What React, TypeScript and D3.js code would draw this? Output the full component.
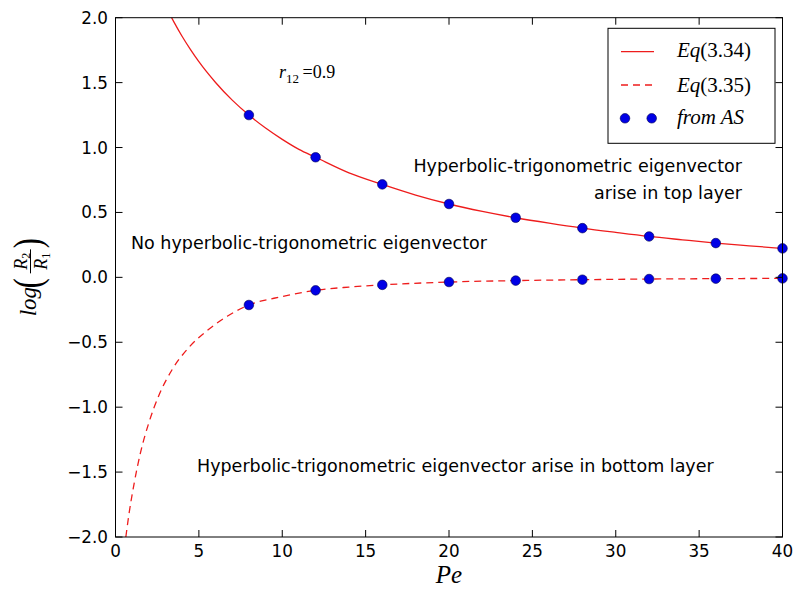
import React from "react";
import * as d3 from "d3";

// Sampled values of the two analytic branches and the AS points
const eq334Pe = [3.0, 3.5, 4, 4.5, 5, 6, 7, 8, 9, 10, 11, 12, 14, 16, 18, 20, 22, 24, 26, 28, 30, 32, 34, 36, 38, 40];
const eq334Val = [2.09, 1.968, 1.855, 1.754, 1.661, 1.501, 1.365, 1.25, 1.15, 1.063, 0.986, 0.925, 0.805, 0.716, 0.634, 0.565, 0.508, 0.459, 0.417, 0.379, 0.346, 0.315, 0.289, 0.264, 0.243, 0.223];

const eq335Pe = [0.62, 0.8, 1.1, 1.5, 2, 2.6, 3.4, 4.4, 5.5, 6.7, 8, 10, 12, 14, 16, 20, 24, 28, 32, 36, 40];
const eq335Val = [-2.0, -1.83, -1.6, -1.35, -1.12, -0.91, -0.71, -0.54, -0.41, -0.3, -0.213, -0.148, -0.1, -0.075, -0.058, -0.036, -0.025, -0.018, -0.013, -0.01, -0.008];

const asPe = [8, 12, 16, 20, 24, 28, 32, 36, 40];
const asTop = [1.25, 0.925, 0.716, 0.565, 0.459, 0.379, 0.315, 0.264, 0.223];
const asBottom = [-0.213, -0.1, -0.058, -0.036, -0.025, -0.018, -0.013, -0.01, -0.008];

const xTicks = [0, 5, 10, 15, 20, 25, 30, 35, 40];
const yTicks = [-2.0, -1.5, -1.0, -0.5, 0.0, 0.5, 1.0, 1.5, 2.0];

const W = 795;
const H = 591;
const L = 115.5;
const R = 782.5;
const T = 17.7;
const B = 537;

const RED = "#ee1c1c";
const BLUE = "#0000e6";
const SANS = "'DejaVu Sans', sans-serif";
const SERIF = "'Liberation Serif', 'DejaVu Serif', serif";

export default function App() {
  const x = d3.scaleLinear().domain([0, 40]).range([L, R]);
  const y = d3.scaleLinear().domain([-2, 2]).range([B, T]);

  const line = d3
    .line<[number, number]>()
    .x((d) => x(d[0]))
    .y((d) => y(d[1]))
    .curve(d3.curveMonotoneX);

  const topPts: [number, number][] = eq334Pe.map((p, i) => [p, eq334Val[i]]);
  const botPts: [number, number][] = eq335Pe.map((p, i) => [p, eq335Val[i]]);

  const tickLen = 7;
  const fmtY = (v: number) => (v < 0 ? "\u2212" + Math.abs(v).toFixed(1) : v.toFixed(1));

  return (
    <svg
      width={W}
      height={H}
      style={{ position: "absolute", left: 0, top: 0, background: "#fff" }}
    >
      <defs>
        <clipPath id="plotArea">
          <rect x={L} y={T} width={R - L} height={B - T} />
        </clipPath>
      </defs>
      <rect x={0} y={0} width={W} height={H} fill="#fff" />

      {/* curves and points */}
      <g clipPath="url(#plotArea)">
        <path d={line(topPts) || ""} fill="none" stroke={RED} strokeWidth={1.3} />
        <path
          d={line(botPts) || ""}
          fill="none"
          stroke={RED}
          strokeWidth={1.3}
          strokeDasharray="7,5"
        />
      </g>
      {asPe.map((p, i) => (
        <circle key={"t" + i} cx={x(p)} cy={y(asTop[i])} r={4.8} fill={BLUE} stroke="#000050" strokeWidth={0.6} />
      ))}
      {asPe.map((p, i) => (
        <circle key={"b" + i} cx={x(p)} cy={y(asBottom[i])} r={4.8} fill={BLUE} stroke="#000050" strokeWidth={0.6} />
      ))}

      {/* frame */}
      <rect x={L} y={T} width={R - L} height={B - T} fill="none" stroke="#000" strokeWidth={1} />

      {/* x ticks, inward on bottom and top */}
      {xTicks.map((t) => (
        <g key={"x" + t}>
          <line x1={x(t)} x2={x(t)} y1={B} y2={B - tickLen} stroke="#000" strokeWidth={1} />
          <line x1={x(t)} x2={x(t)} y1={T} y2={T + tickLen} stroke="#000" strokeWidth={1} />
          <text x={x(t)} y={557} textAnchor="middle" fontFamily={SANS} fontSize={16.8} fill="#000">
            {t}
          </text>
        </g>
      ))}

      {/* y ticks, inward on left and right */}
      {yTicks.map((t) => (
        <g key={"y" + t}>
          <line x1={L} x2={L + tickLen} y1={y(t)} y2={y(t)} stroke="#000" strokeWidth={1} />
          <line x1={R} x2={R - tickLen} y1={y(t)} y2={y(t)} stroke="#000" strokeWidth={1} />
          <text x={108} y={y(t) + 6} textAnchor="end" fontFamily={SANS} fontSize={16.8} fill="#000">
            {fmtY(t)}
          </text>
        </g>
      ))}

      {/* axis labels */}
      <text x={(L + R) / 2} y={583} textAnchor="middle" fontFamily={SERIF} fontStyle="italic" fontSize={25} fill="#000">
        Pe
      </text>
      <g transform={`translate(34, ${(T + B) / 2}) rotate(-90)`} fontFamily={SERIF} fill="#000">
        <text x={-39} y={2} fontSize={23} fontStyle="italic">
          log
        </text>
        <text x={-11} y={7} fontSize={40} transform="translate(-11,0) scale(0.75,1) translate(11,0)">
          (
        </text>
        <text x={16} y={-7} fontSize={18} textAnchor="middle">
          <tspan fontStyle="italic">R</tspan>
          <tspan fontSize={12} dy={3}>2</tspan>
        </text>
        <line x1={4} x2={28} y1={-3.5} y2={-3.5} stroke="#000" strokeWidth={1} />
        <text x={16} y={13} fontSize={18} textAnchor="middle">
          <tspan fontStyle="italic">R</tspan>
          <tspan fontSize={12} dy={3}>1</tspan>
        </text>
        <text x={29} y={7} fontSize={40} transform="translate(29,0) scale(0.75,1) translate(-29,0)">
          )
        </text>
      </g>

      {/* annotations */}
      <text x={279} y={78} fontFamily={SERIF} fontSize={18} fill="#000">
        <tspan fontStyle="italic">r</tspan>
        <tspan fontSize={13} dy={5}>12</tspan>
        <tspan dy={-5}>{"\u2009=0.9"}</tspan>
      </text>
      <text x={742} y={171.5} textAnchor="end" fontFamily={SANS} fontSize={17.5} fill="#000">
        Hyperbolic-trigonometric eigenvector
      </text>
      <text x={742} y={199} textAnchor="end" fontFamily={SANS} fontSize={17.5} fill="#000">
        arise in top layer
      </text>
      <text x={131} y={249} fontFamily={SANS} fontSize={17.5} fill="#000">
        No hyperbolic-trigonometric eigenvector
      </text>
      <text x={197} y={472} fontFamily={SANS} fontSize={17.5} fill="#000">
        Hyperbolic-trigonometric eigenvector arise in bottom layer
      </text>

      {/* legend */}
      <g>
        <rect x={608} y={28.3} width={167} height={115} fill="#fff" stroke="#000" strokeWidth={1} />
        <line x1={621} x2={654} y1={51.7} y2={51.7} stroke={RED} strokeWidth={1.3} />
        <text x={677} y={57} fontFamily={SERIF} fontSize={21} fill="#000">
          <tspan fontStyle="italic">Eq</tspan>
          <tspan>(3.34)</tspan>
        </text>
        <line x1={621} x2={654} y1={85} y2={85} stroke={RED} strokeWidth={1.3} strokeDasharray="7,5" />
        <text x={677} y={91.5} fontFamily={SERIF} fontSize={21} fill="#000">
          <tspan fontStyle="italic">Eq</tspan>
          <tspan>(3.35)</tspan>
        </text>
        <circle cx={625} cy={118.3} r={4.8} fill={BLUE} stroke="#000050" strokeWidth={0.6} />
        <circle cx={651.7} cy={118.3} r={4.8} fill={BLUE} stroke="#000050" strokeWidth={0.6} />
        <text x={677} y={124} fontFamily={SERIF} fontStyle="italic" fontSize={21} fill="#000">
          from AS
        </text>
      </g>
    </svg>
  );
}
